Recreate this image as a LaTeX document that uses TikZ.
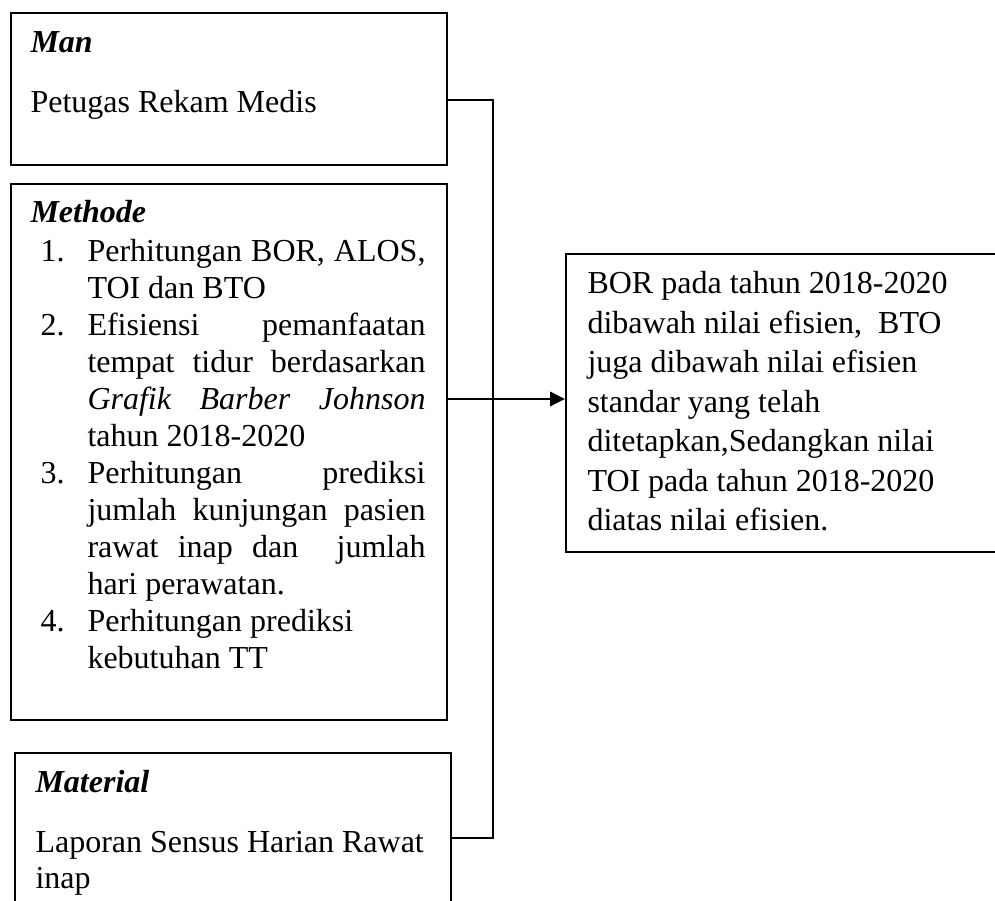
\documentclass[tikz,border=0pt]{standalone}
\usepackage{fontspec}
\setmainfont{Liberation Serif}
\usetikzlibrary{arrows.meta}
\tikzset{
  boxnode/.style={draw=black, line width=0.75pt, rectangle, inner sep=0pt, anchor=north west},
  txt/.style={anchor=base west, inner sep=0pt, font=\fontsize{12}{14}\selectfont},
  conn/.style={draw=black, line width=0.75pt},
}
\newcommand{\itemnum}[1]{\noindent\hangindent=17.625pt\hangafter=1\makebox[17.625pt][l]{#1}}
\begin{document}
\begin{tikzpicture}[x=0.375pt,y=-0.375pt]
\useasboundingbox (0,0) rectangle (995,901);
% boxes
\node[boxnode, minimum width=163.5pt, minimum height=57pt] (man) at (10,12) {};
\node[boxnode, minimum width=163.5pt, minimum height=201pt] (meth) at (10,183) {};
\node[boxnode, minimum width=163.5pt, minimum height=75pt] (mat) at (14,752) {};
\node[boxnode, minimum width=180pt, minimum height=111.75pt] (res) at (565,253) {};
% texts
\node[txt] (mantitle) at (30,53) {\textbf{\textit{Man}}};
\node[txt] (mantext) at (30,113) {Petugas Rekam Medis};
\node[txt] (methtitle) at (30,223) {\textbf{\textit{Methode}}};
\node[txt] (methtext) at (40,262) {\parbox[t]{144.375pt}{\fontsize{12}{13.85}\selectfont
  \hyphenpenalty=10000 \exhyphenpenalty=10000 \parindent=0pt \parskip=0pt \emergencystretch=3em
  \itemnum{1.}Perhitungan BOR, ALOS, TOI dan BTO\par
  \itemnum{2.}Efisiensi pemanfaatan\linebreak tempat tidur berdasarkan\linebreak \textit{Grafik Barber Johnson}\linebreak tahun 2018-2020\par
  \itemnum{3.}Perhitungan prediksi\linebreak jumlah kunjungan pasien\linebreak rawat inap dan\ \ jumlah\linebreak hari perawatan.\par
  \itemnum{4.}Perhitungan prediksi\newline kebutuhan TT\par}};
\node[txt] (mattitle) at (35,792) {\textbf{\textit{Material}}};
\node[txt] (mattext) at (35,852) {\parbox[t]{160pt}{\fontsize{12}{13.5}\selectfont Laporan Sensus Harian Rawat\\inap}};
\node[txt] (restext) at (587,294) {\parbox[t]{170pt}{\fontsize{12}{14.78}\selectfont
  BOR pada tahun 2018-2020\\
  dibawah nilai efisien,\ \ BTO\\
  juga dibawah nilai efisien\\
  standar yang telah\\
  ditetapkan,Sedangkan nilai\\
  TOI pada tahun 2018-2020\\
  diatas nilai efisien.}};
% connectors
\coordinate (j1) at (493,100);
\coordinate (j2) at (493,399);
\coordinate (j3) at (493,838);
\draw[conn] (man.east |- j1) -- (j1) -- (j3) -- (mat.east |- j3);
\draw[conn, -{Triangle[length=5.6pt,width=5.4pt]}] (meth.east |- j2) -- (res.west |- j2);
\end{tikzpicture}
\end{document}
